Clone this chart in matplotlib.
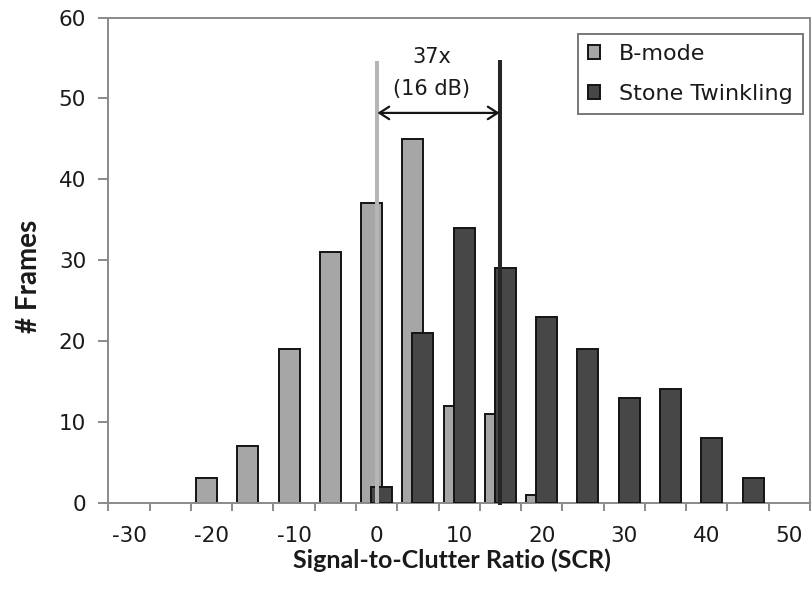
import matplotlib
matplotlib.use("Agg")
import matplotlib.pyplot as plt
import numpy as np

plt.rcParams['font.family'] = ['DejaVu Sans']

# ---- data ----
category_edges = [-32.5 + 5 * k for k in range(18)]
x_tick_values = [-30, -20, -10, 0, 10, 20, 30, 40, 50]
x_tick_labels = ['-30', '-20', '-10', '0', '10', '20', '30', '40', '50']
y_tick_values = [0, 10, 20, 30, 40, 50, 60]

bmode_bins = [-20, -15, -10, -5, 0, 5, 10, 15, 20]
bmode_counts = [3, 7, 19, 31, 37, 45, 12, 11, 1]

stone_bins = [0, 5, 10, 15, 20, 25, 30, 35, 40, 45]
stone_counts = [2, 21, 34, 29, 23, 19, 13, 14, 8, 3]

bmode_line_x = 0
stone_line_x = 15
line_top = 54.6
arrow_y = 48.2
ratio_text = "37x"
db_text = "(16 dB)"

# ---- figure ----
W, H = 812, 591
fig = plt.figure(figsize=(W / 100, H / 100), dpi=100)
ax_left, ax_right, ax_top, ax_bottom = 108.3, 810, 17.5, 502.7
ax = fig.add_axes([ax_left / W, 1 - ax_bottom / H,
                   (ax_right - ax_left) / W, (ax_bottom - ax_top) / H])

spine_col = '#8a8a8a'
txt_col = '#1a1a1a'
bar_w = 2.55
off = 0.6
ax.bar(np.array(bmode_bins) - off, bmode_counts, width=bar_w, color='#a6a6a6',
       edgecolor='#141414', linewidth=1.4, label='B-mode', zorder=2)
ax.bar(np.array(stone_bins) + off, stone_counts, width=bar_w, color='#474747',
       edgecolor='#141414', linewidth=1.4, label='Stone Twinkling', zorder=3)

# vertical marker lines
ax.plot([bmode_line_x, bmode_line_x], [0, line_top], color='#b5b5b5', lw=2.9,
        zorder=4, solid_capstyle='butt')
ax.plot([stone_line_x, stone_line_x], [-0.3, line_top + 0.2], color='#262626', lw=2.9,
        zorder=4, solid_capstyle='butt', clip_on=False)

ax.annotate('', xy=(bmode_line_x + 0.1, arrow_y), xytext=(stone_line_x - 0.1, arrow_y),
            arrowprops=dict(arrowstyle='<->,head_length=0.7,head_width=0.45',
                            color='#151515', lw=1.6, shrinkA=0, shrinkB=0),
            zorder=5)
ax.text(6.7, 55.1, ratio_text, ha='center', va='center', fontsize=15, color=txt_col)
ax.text(6.7, 51.1, db_text, ha='center', va='center', fontsize=15, color=txt_col)

# axes limits / ticks
ax.set_xlim(-32.5, 52.5)
ax.set_ylim(0, 60)
ax.set_xticks(x_tick_values)
ax.set_xticklabels(x_tick_labels)
ax.set_xticks(category_edges, minor=True)
ax.tick_params(axis='x', which='major', length=0, pad=16.5, labelsize=15.5, labelcolor=txt_col)
ax.tick_params(axis='x', which='minor', length=6, width=1.4, color=spine_col, direction='out')
ax.set_yticks(y_tick_values)
ax.tick_params(axis='y', which='major', length=7, width=1.4, color=spine_col,
               direction='out', pad=9, labelsize=15.5, labelcolor=txt_col)

for s in ax.spines.values():
    s.set_color(spine_col)
    s.set_linewidth(1.4)

ax.set_xlabel('Signal-to-Clutter Ratio (SCR)', fontsize=18, fontweight='bold',
              color=txt_col, va='baseline', family=['Lato', 'DejaVu Sans'])
ax.xaxis.set_label_coords(0.49, -0.1346)
ax.set_ylabel('# Frames', fontsize=20, fontweight='bold', color=txt_col, va='center',
              family=['Lato', 'DejaVu Sans'])
ax.yaxis.set_label_coords(-0.113, 0.466)

leg = ax.legend(loc='upper right', bbox_to_anchor=(803 / W, 1 - 34 / H),
                bbox_transform=fig.transFigure, borderaxespad=0, fontsize=16,
                frameon=True, fancybox=False, handlelength=0.55, handleheight=0.55,
                handletextpad=0.85, labelspacing=0.9, borderpad=0.45)
leg.get_frame().set_edgecolor('#555555')
leg.get_frame().set_linewidth(1.4)
for t in leg.get_texts():
    t.set_color(txt_col)

fig.savefig('out.png', dpi=100)
